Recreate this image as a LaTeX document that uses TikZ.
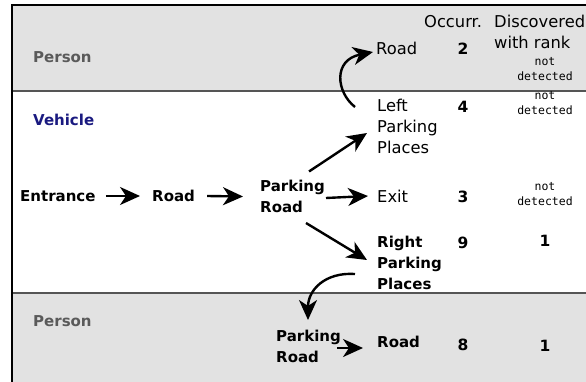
\documentclass[tikz,border=0pt]{standalone}
\usepackage{fontspec}
\setmainfont{DejaVu Sans}
\setmonofont{DejaVu Sans Mono}
\usetikzlibrary{arrows.meta}
\definecolor{band}{RGB}{226,226,226}
\definecolor{divgray}{RGB}{85,85,85}
\definecolor{persongray}{RGB}{90,90,90}
\definecolor{vehblue}{RGB}{26,26,128}

\begin{document}
\begin{tikzpicture}[
		x = 1pt,
		y = -1pt,
		lab/.style = {
			anchor = west,
			inner sep = 0pt,
			align = left,
			font = \fontsize{16.3}{21}\selectfont
		},
		blab/.style = {
			lab,
			font = \bfseries\fontsize{15}{21}\selectfont
		},
		num/.style = {
			inner sep = 0pt,
			font = \bfseries\fontsize{15.5}{21}\selectfont
		},
		nd/.style = {
			inner sep = 0pt,
			align = center,
			font = \ttfamily\fontsize{11.5}{15}\selectfont
		},
		arr/.style = {
			line width = 2.4pt,
			-{Stealth[length=20pt, width=18pt, inset=6pt]}
		},
		sep/.style = {
			divgray,
			line width = 2pt
		}
	]

	\clip (0,0) rectangle (586,382);
	\fill [band] (12,5) rectangle (586,91.5);
	\fill [band] (12,293) rectangle (586,382);
	\draw [sep] (12,91.5) -- (586,91.5);
	\draw [sep] (12,293) -- (586,293);
	\draw [line width=1.5pt] (12,400) -- (12,5) -- (600,5);

	\node [lab] (occ) at (424,22) {Occurr.};
	\node [lab] (disc) at (494,32) {Discovered\\with rank};

	\node [blab, persongray] (pers) at (33,57) {Person};
	\node [blab, vehblue] (veh) at (33,120) {Vehicle};
	\node [blab, persongray] (persb) at (33,321) {Person};

	\node [blab] (ent) at (20,196) {Entrance};
	\node [blab] (rd) at (152,196) {Road};
	\node [blab] (pr) at (260,196.5) {Parking\\Road};
	\node [lab] (ex) at (377,196) {Exit};
	\node [lab] (lpp) at (377,126) {Left\\Parking\\Places};
	\node [blab] (rpp) at (377,263) {Right\\Parking\\Places};
	\node [lab] (rdt) at (376,48) {Road};
	\node [blab] (prb) at (276,346.5) {Parking\\Road};
	\node [blab] (rdb) at (377,342) {Road};

	\node [num] (n2) at (463,49) {2};
	\node [num] (n4) at (463,107) {4};
	\node [num] (n3) at (463,197) {3};
	\node [num] (n9) at (463,243) {9};
	\node [num] (n8) at (463,345) {8};

	\node [nd] (nd2) at (545,69.5) {not\\detected};
	\node [nd] (nd4) at (545,103.5) {not\\detected};
	\node [nd] (nd3) at (545,194) {not\\detected};
	\node [num] (r9) at (545,241) {1};
	\node [num] (r8) at (545,346) {1};

	\draw [arr] ([xshift=10pt]ent.east) -- ([xshift=-12pt]rd.west);
	\draw [arr] ([xshift=12pt]rd.east) -- ([xshift=-17pt]pr.west);
	\draw [arr] ([shift={(66,1.5)}]pr.west) -- ([xshift=-9pt]ex.west);
	\draw [arr] ([shift={(49,-25)}]pr.west) -- ([shift={(-10,7)}]lpp.west);
	\draw [arr] ([shift={(46,26.5)}]pr.west) -- ([shift={(-10,-3)}]rpp.west);
	\draw [arr] ([shift={(-22,-19)}]lpp.west) .. controls (336,92) and (333,60) .. ([shift={(-3,4)}]rdt.west);
	\draw [arr] ([shift={(-22,11)}]rpp.west) .. controls (325,272) and (308,290) .. ([shift={(32,-26.5)}]prb.west);
	\draw [arr] ([shift={(61,1.5)}]prb.west) -- ([shift={(-14,6)}]rdb.west);
\end{tikzpicture}
\end{document}
